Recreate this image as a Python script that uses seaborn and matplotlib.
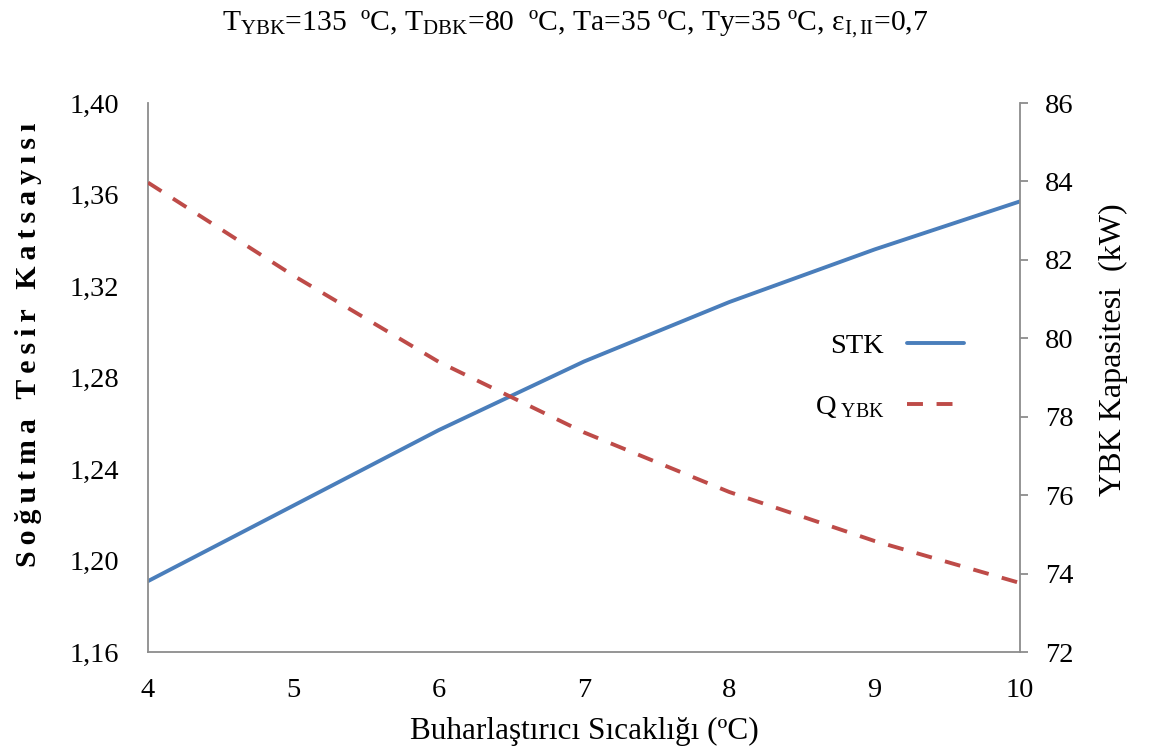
import numpy as np
import pandas as pd
import matplotlib
matplotlib.use("Agg")
import matplotlib.pyplot as plt
from matplotlib.ticker import FuncFormatter
import seaborn as sns

# ---- data ----
evap_temp = [4, 5, 6, 7, 8, 9, 10]
stk = [1.191, 1.224, 1.257, 1.287, 1.313, 1.336, 1.357]
q_ybk = [83.97, 81.6, 79.4, 77.6, 76.08, 74.83, 73.76]
left_ticks = [1.16, 1.20, 1.24, 1.28, 1.32, 1.36, 1.40]
right_ticks = [72, 74, 76, 78, 80, 82, 84, 86]
x_ticks = [4, 5, 6, 7, 8, 9, 10]

title_text = r"T$_{\mathrm{YBK}}$=135  ºC, T$_{\mathrm{DBK}}$=80  ºC, Ta=35 ºC, Ty=35 ºC, ε$_{\mathrm{I,II}}$=0,7"
xlabel_text = "Buharlaştırıcı Sıcaklığı (ºC)"
ylabel_left = "Soğutma Tesir Katsayısı"
ylabel_right = "YBK Kapasitesi  (kW)"
legend_stk = "STK"
legend_q = r"Q$_{\ \mathrm{YBK}}$"

df = pd.DataFrame({"x": evap_temp, "stk": stk, "q": q_ybk})

sns.set_style("white")
plt.rcParams["font.family"] = ["Liberation Serif", "DejaVu Serif"]
plt.rcParams["mathtext.fontset"] = "custom"
plt.rcParams["mathtext.rm"] = "Liberation Serif"
plt.rcParams["mathtext.it"] = "Liberation Serif:italic"
plt.rcParams["mathtext.bf"] = "Liberation Serif:bold"
plt.rcParams["text.color"] = "black"
plt.rcParams["xtick.color"] = "black"
plt.rcParams["ytick.color"] = "black"
plt.rcParams["axes.labelcolor"] = "black"

BLUE = "#4A7EBB"
RED = "#BE4B48"
GREY = "#8C8C8C"

fig = plt.figure(figsize=(11.51, 7.53), dpi=100)
ax = fig.add_axes([0.1286, 0.1341, 0.8862 - 0.1286, 0.8632 - 0.1341])
ax2 = ax.twinx()

sns.lineplot(data=df, x="x", y="stk", ax=ax, color=BLUE, linewidth=2.8, label=legend_stk, legend=False)
sns.lineplot(data=df, x="x", y="q", ax=ax2, color=RED, linewidth=2.8, label=legend_q, legend=False)
ax2.lines[0].set_dashes([4.1, 3.5])

ax.set_xlim(4, 10)
ax.set_ylim(1.16, 1.40)
ax2.set_ylim(72, 86)
ax.set_xticks(x_ticks)
ax.set_yticks(left_ticks)
ax2.set_yticks(right_ticks)
ax.yaxis.set_major_formatter(FuncFormatter(lambda v, p: f"{v:.2f}".replace(".", ",")))
ax2.yaxis.set_major_formatter(FuncFormatter(lambda v, p: f"{v:.0f}"))

for a in (ax, ax2):
    for s in a.spines.values():
        s.set_color(GREY)
        s.set_linewidth(1.3)
    a.spines["top"].set_visible(False)
ax.spines["right"].set_visible(False)
ax2.spines["left"].set_visible(False)
ax2.spines["bottom"].set_visible(False)

ax.tick_params(axis="x", length=0, pad=19, labelsize=20.5)
ax.tick_params(axis="y", length=0, pad=21, labelsize=20.5)
ax2.tick_params(axis="y", direction="out", length=6, width=1.3, color=GREY, pad=12, labelsize=20.5)

ax.set_xlabel(xlabel_text, fontsize=22.5, labelpad=10)
ax.set_ylabel("")
ax2.set_ylabel("")

# left label: bold, letter-spaced
spaced = "\u2009".join(list(ylabel_left))
fig.text(0.025, 0.542, spaced, rotation=90, ha="center", va="center",
         fontsize=21.5, fontweight="bold")
fig.text(0.967, 0.535, ylabel_right, rotation=90, ha="center", va="center", fontsize=23)

fig.text(0.5, 0.968, title_text, ha="center", va="center", fontsize=21.3)

h1, l1 = ax.get_legend_handles_labels()
h2, l2 = ax2.get_legend_handles_labels()
leg = ax2.legend(h1 + h2, l1 + l2, loc="center left", bbox_to_anchor=(0.735, 0.502),
                 frameon=False, markerfirst=False, fontsize=20.5, handlelength=2.0,
                 labelspacing=1.25, handletextpad=0.8)

fig.savefig("out.png", dpi=100)
